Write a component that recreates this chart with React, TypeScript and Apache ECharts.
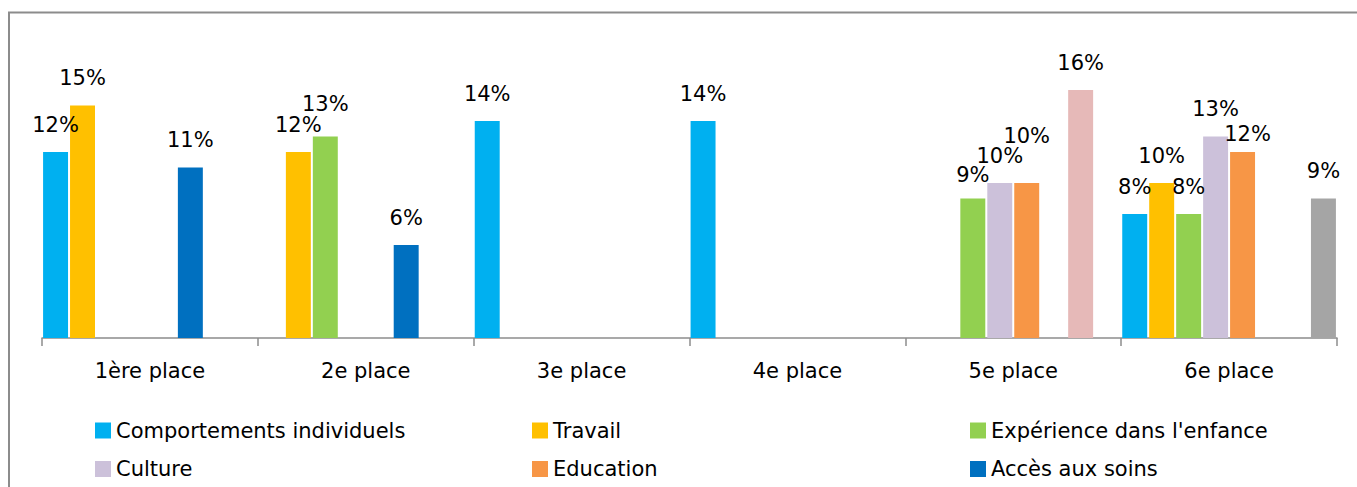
import React, { useEffect, useRef } from "react";
import * as echarts from "echarts";

const categories = ["1ère place", "2e place", "3e place", "4e place", "5e place", "6e place"];

const comportements = [12, null, 14, 14, null, 8];
const travail = [15, 12, null, null, null, 10];
const experience = [null, 13, null, null, 9, 8];
const culture = [null, null, null, null, 10, 13];
const education = [null, null, null, null, 10, 12];
const accesSoins = [11, 6, null, null, null, null];
const environnement = [null, null, null, null, 16, null];
const autres = [null, null, null, null, null, 9];

const seriesDefs = [
  { name: "Comportements individuels", data: comportements, color: "#00B0F0" },
  { name: "Travail", data: travail, color: "#FFC000" },
  { name: "Expérience dans l'enfance", data: experience, color: "#92D050" },
  { name: "Culture", data: culture, color: "#CCC1DA" },
  { name: "Education", data: education, color: "#F79646" },
  { name: "Accès aux soins", data: accesSoins, color: "#0070C0" },
  { name: "Environnement", data: environnement, color: "#E6B9B8" },
  { name: "Autres", data: autres, color: "#A5A5A5" },
];

// label nudges (series name -> category index -> [dx, dy]) to mimic the original label placement
const labelNudges: Record<string, Record<number, [number, number]>> = {
  "Expérience dans l'enfance": { 1: [0, -5], 4: [0, 4] },
  Education: { 4: [0, -20], 5: [5, 9] },
};

const FONT = "DejaVu Sans";

const legendPos = [
  { name: "Comportements individuels", left: 95, top: 420 },
  { name: "Travail", left: 532, top: 420 },
  { name: "Expérience dans l'enfance", left: 970, top: 420 },
  { name: "Culture", left: 95, top: 458.5 },
  { name: "Education", left: 532, top: 458.5 },
  { name: "Accès aux soins", left: 970, top: 458.5 },
];

export default function App() {
  const ref = useRef<HTMLDivElement>(null);
  useEffect(() => {
    document.body.style.margin = "0";
    const chart = echarts.init(ref.current!, null, { renderer: "svg" });
    chart.setOption({
      animation: false,
      backgroundColor: "#ffffff",
      graphic: [
        {
          type: "rect",
          shape: { x: 9, y: 12.5, width: 1400, height: 600 },
          style: { fill: "none", stroke: "#8c8c8c", lineWidth: 2 },
          silent: true,
        },
      ],
      grid: { left: 42, right: 20, top: 59, bottom: 149, containLabel: false },
      legend: legendPos.map((l) => ({
        data: [l.name],
        left: l.left,
        top: l.top,
        padding: 0,
        icon: "rect",
        itemWidth: 16,
        itemHeight: 16,
        selectedMode: false,
        textStyle: { fontFamily: FONT, fontSize: 21, color: "#000", lineHeight: 21 },
      })),
      xAxis: {
        type: "category",
        data: categories,
        axisLine: { lineStyle: { color: "#8c8c8c", width: 1.5 } },
        axisTick: { show: true, length: 8, lineStyle: { color: "#8c8c8c", width: 1.5 } },
        axisLabel: { fontFamily: FONT, fontSize: 21, color: "#000", margin: 22 },
      },
      yAxis: {
        type: "value",
        min: 0,
        max: 18,
        show: false,
        splitLine: { show: false },
      },
      series: seriesDefs.map((s) => ({
        type: "bar",
        name: s.name,
        data: s.data.map((v, i) => {
          const n = labelNudges[s.name]?.[i];
          return n ? { value: v, label: { offset: n } } : v;
        }),
        barGap: "8%",
        barCategoryGap: "1%",
        itemStyle: { color: s.color },
        label: {
          show: true,
          position: "top",
          distance: 17,
          formatter: (p: any) => `${p.value}%`,
          fontFamily: FONT,
          fontSize: 21,
          color: "#000",
        },
      })),
    });
    return () => chart.dispose();
  }, []);
  return <div ref={ref} style={{ width: 1357, height: 487 }} />;
}
